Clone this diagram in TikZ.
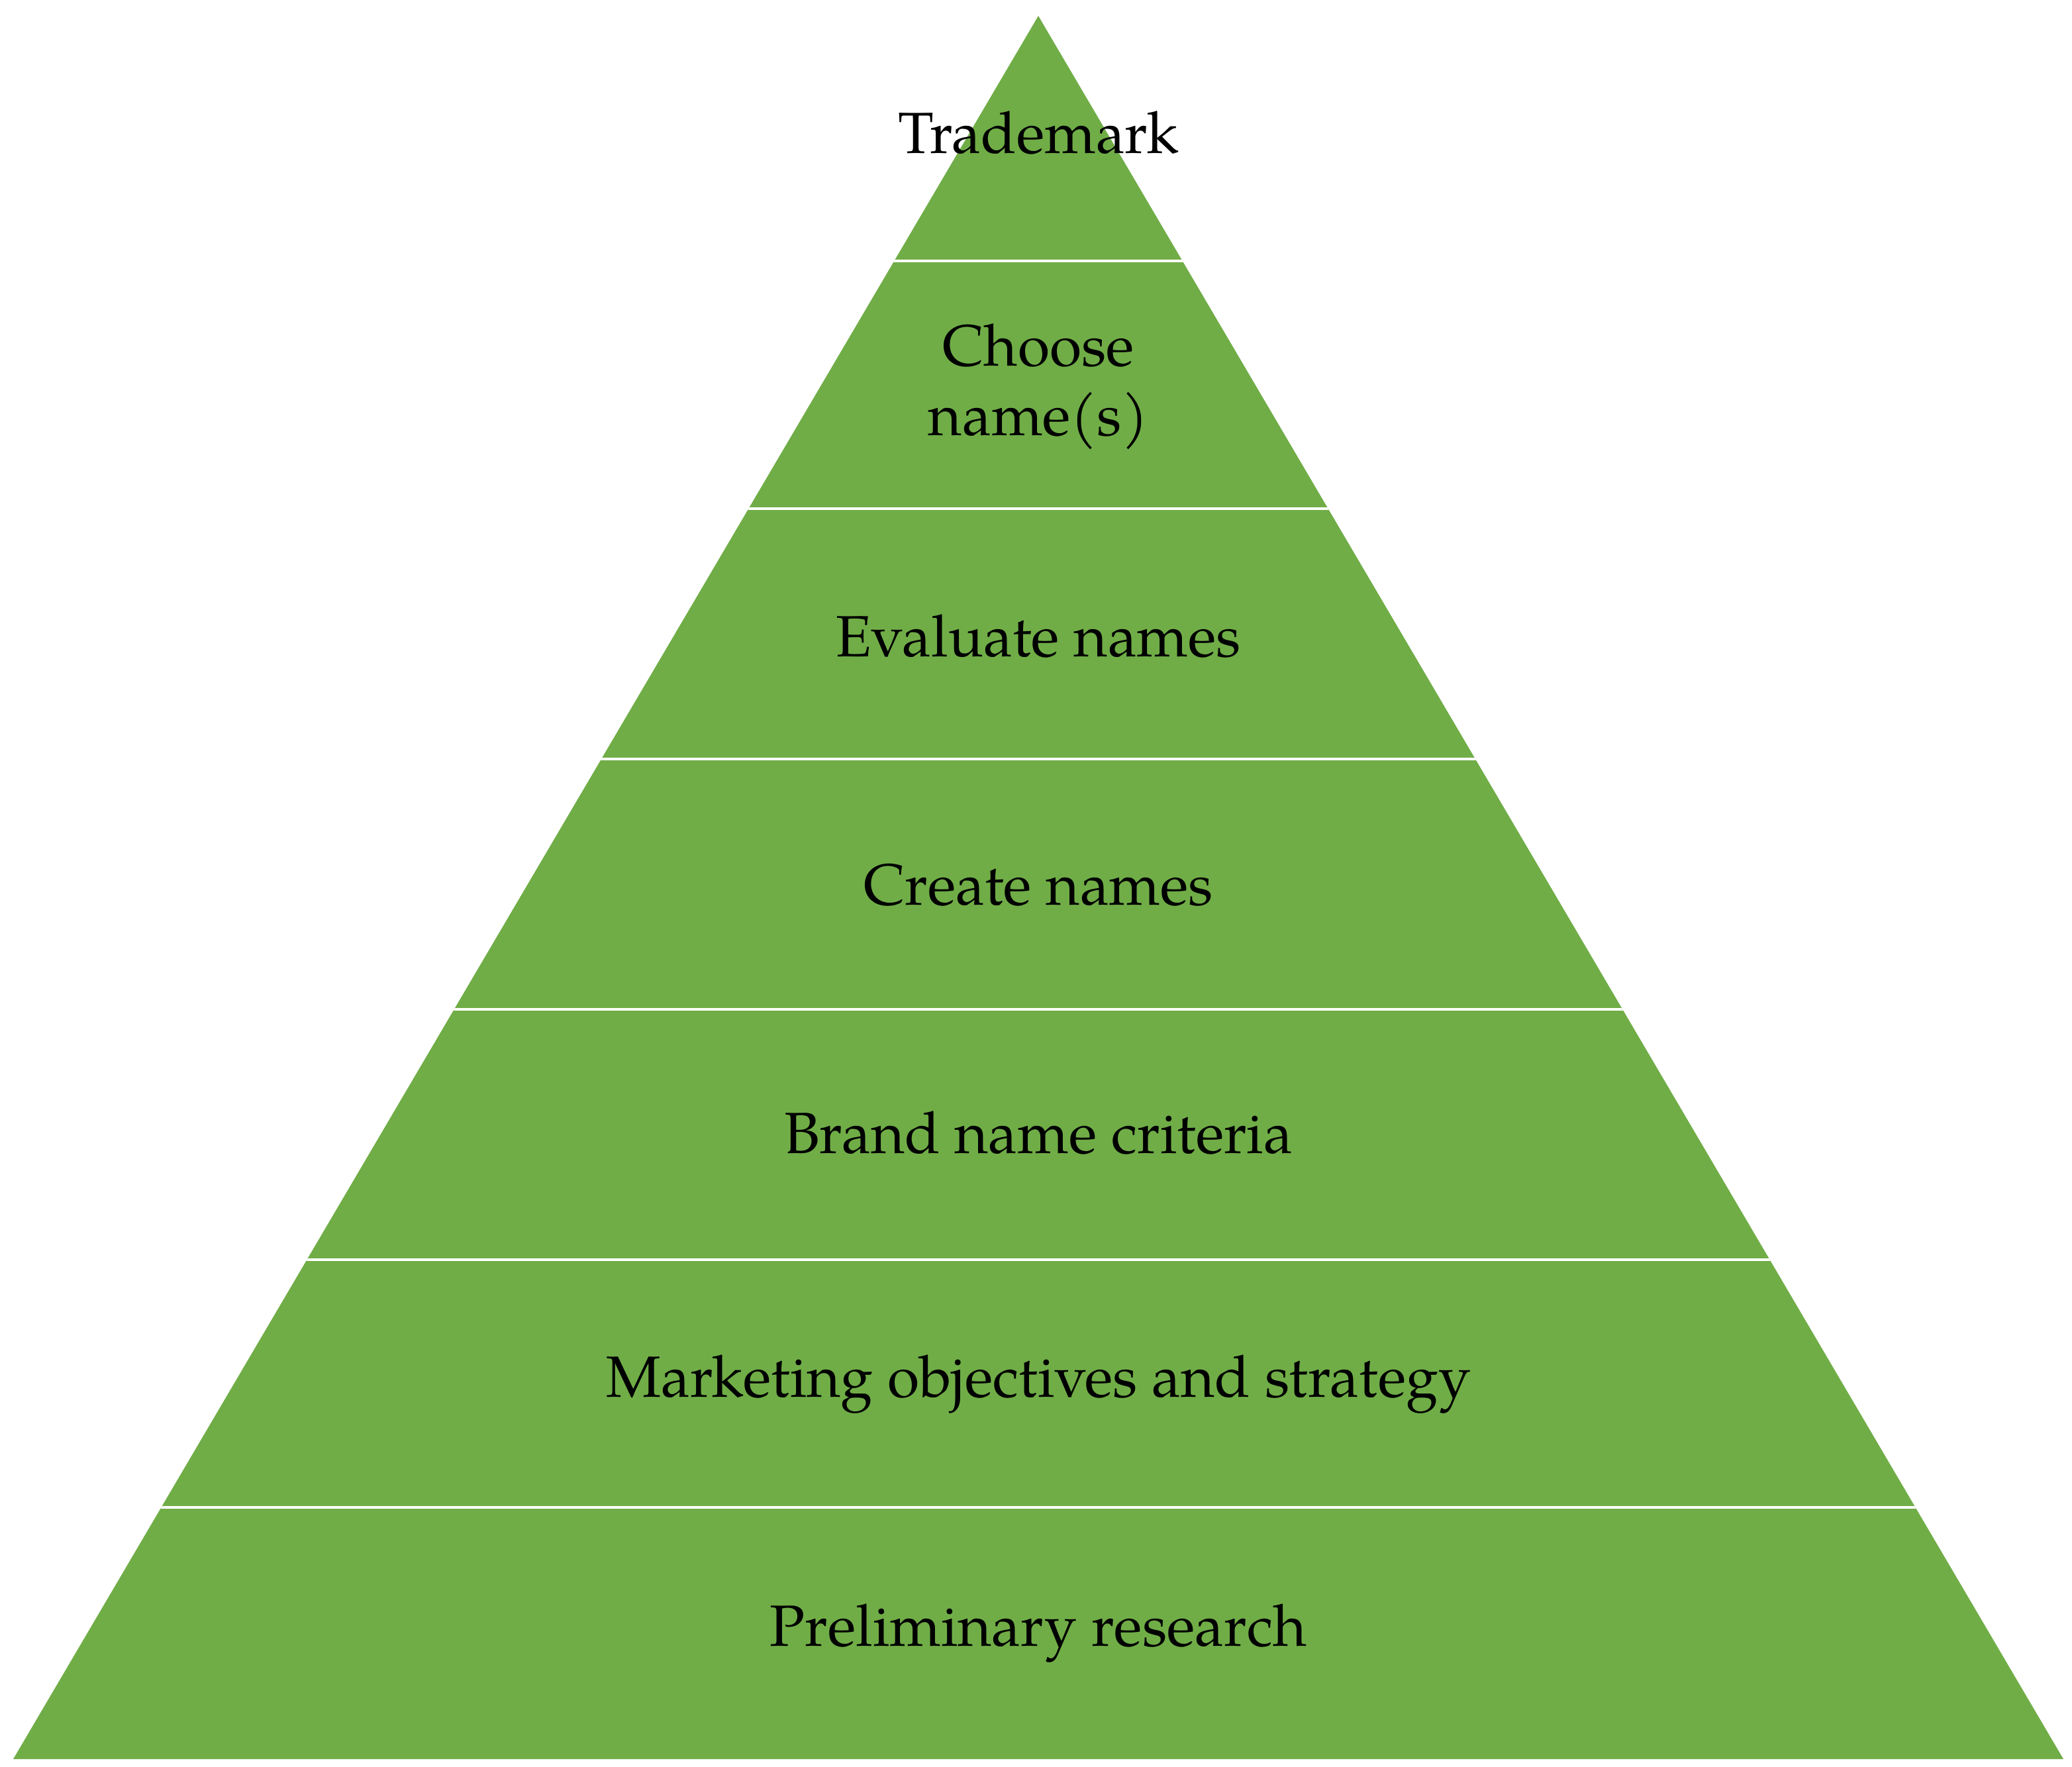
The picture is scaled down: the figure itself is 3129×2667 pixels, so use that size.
\documentclass[tikz,border=0pt]{standalone}
\usepackage{fontspec}
\setmainfont{TeX Gyre Pagella}
\definecolor{pgreen}{HTML}{70AD47}
\begin{document}
\begin{tikzpicture}[x=0.1mm,y=-0.1mm,
  lbl/.style={font=\fontsize{25}{30}\selectfont, align=center, text=black}]
\useasboundingbox (0,0) rectangle (3129,2667);
\fill[white] (0,0) rectangle (3129,2667);
\coordinate (apex) at (1568,24);
\coordinate (bl) at (20,2656);
\coordinate (br) at (3116,2656);
\fill[pgreen] (apex) -- (br) -- (bl) -- cycle;
\begin{scope}
\clip (apex) -- (br) -- (bl) -- cycle;
\foreach \y in {394,768,1146,1524,1902,2276}
  \draw[white, line width=1.2pt] (0,\y) -- (3129,\y);
\end{scope}
\node[lbl] (t1) at (1568,200) {Trademark};
\node[lbl] (t2) at (1568,584) {Choose\\name(s)};
\node[lbl] (t3) at (1568,960) {Evaluate names};
\node[lbl] (t4) at (1568,1336) {Create names};
\node[lbl] (t5) at (1568,1710) {Brand name criteria};
\node[lbl] (t6) at (1568,2090) {Marketing objectives and strategy};
\node[lbl] (t7) at (1568,2466) {Preliminary research};
\end{tikzpicture}
\end{document}
